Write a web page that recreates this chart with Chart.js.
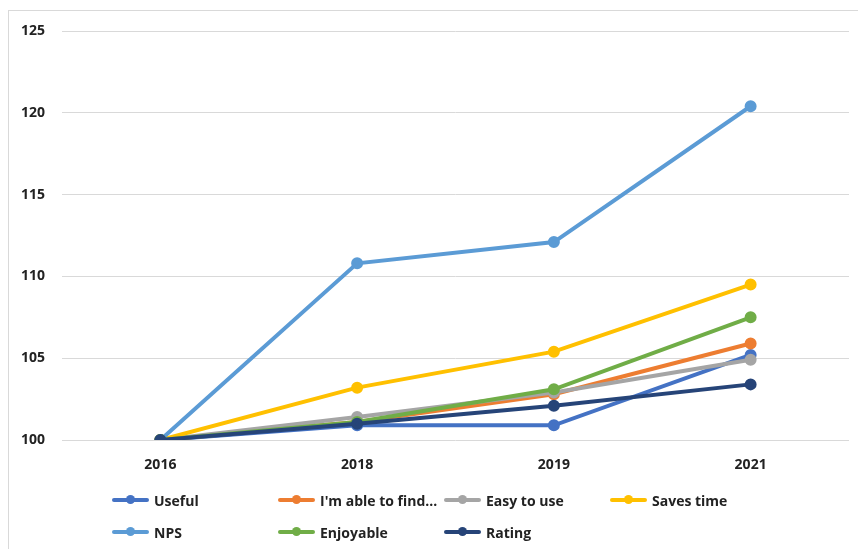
<!DOCTYPE html>
<html>
<head>
<meta charset="utf-8">
<script src="https://cdn.jsdelivr.net/npm/chart.js@4.4.0/dist/chart.umd.min.js"></script>
<style>
  body { margin: 0; background: #fff; }
  #wrap { position: relative; width: 858px; height: 549px; overflow: hidden; }
  #cadre { position: absolute; left: 8px; top: 10px; right: -2px; bottom: -2px;
           border-left: 1px solid #d9d9d9; border-top: 1px solid #d9d9d9; }
  #graph { position: absolute; left: 0; top: 0; }
  .leg { position: absolute; font: bold 14px "Open Sans", sans-serif; color: #222;
         white-space: nowrap; display: flex; align-items: center; height: 20px; }
  .leg .trait { position: relative; width: 37px; height: 4px; margin-right: 5px; border-radius: 2px; }
  .leg .trait span { position: absolute; left: 14px; top: -3px; width: 9px; height: 9px; border-radius: 50%; }
</style>
</head>
<body>
<div id="wrap">
  <div id="cadre"></div>
  <canvas id="graph" width="858" height="549"></canvas>
  <div id="legende"></div>
</div>
<script>
const annees = ["2016", "2018", "2019", "2021"];
const noms = ["Useful", "I'm able to find...", "Easy to use", "Saves time", "NPS", "Enjoyable", "Rating"];
const couleurs = ["#4472C4", "#ED7D31", "#A5A5A5", "#FFC000", "#5B9BD5", "#70AD47", "#264478"];

const useful = [100, 100.9, 100.9, 105.2];
const ableToFind = [100, 101.1, 102.8, 105.9];
const easyToUse = [100, 101.4, 102.9, 104.9];
const savesTime = [100, 103.2, 105.4, 109.5];
const nps = [100, 110.8, 112.1, 120.4];
const enjoyable = [100, 101.1, 103.1, 107.5];
const rating = [100, 101.0, 102.1, 103.4];

const yTicks = [100, 105, 110, 115, 120, 125];

const series = [useful, ableToFind, easyToUse, savesTime, nps, enjoyable, rating];

const datasets = series.map((vals, i) => ({
    label: noms[i],
    data: vals,
    borderColor: couleurs[i],
    backgroundColor: couleurs[i],
    borderWidth: 4,
    pointRadius: 4,
    pointHoverRadius: 5,
    tension: 0,
    order: series.length - i // la derniere serie dessinee au-dessus
}));

new Chart(document.getElementById("graph"), {
    type: 'line',
    data: { labels: annees, datasets: datasets },
    options: {
        responsive: false,
        animation: false,
        layout: { padding: { left: 0, top: 31, right: 8, bottom: 69 } },
        plugins: { legend: { display: false }, tooltip: { enabled: false } },
        scales: {
            x: {
                offset: true,
                grid: { display: false },
                border: { display: false },
                ticks: { color: "#222", padding: 9, font: { family: "Open Sans", size: 14, weight: "bold" } },
                afterFit: s => { s.height = 40; }
            },
            y: {
                min: 100,
                max: 125,
                afterBuildTicks: s => { s.ticks = yTicks.map(v => ({ value: v })); },
                grid: { color: "#d9d9d9", lineWidth: 1, drawTicks: false },
                border: { display: false },
                ticks: { color: "#222", padding: 17, font: { family: "Open Sans", size: 14, weight: "bold" } },
                afterFit: s => { s.width = 62; }
            }
        }
    }
});

// legende en HTML, 4 colonnes
const legende = document.getElementById("legende");
noms.forEach((nom, i) => {
    const d = document.createElement("div");
    d.className = "leg";
    d.style.left = (112 + (i % 4) * 166) + "px";
    d.style.top = (490 + Math.floor(i / 4) * 32) + "px";
    d.innerHTML = `<div class="trait" style="background:${couleurs[i]}"><span style="background:${couleurs[i]}"></span></div>${nom}`;
    legende.appendChild(d);
});
</script>
</body>
</html>
